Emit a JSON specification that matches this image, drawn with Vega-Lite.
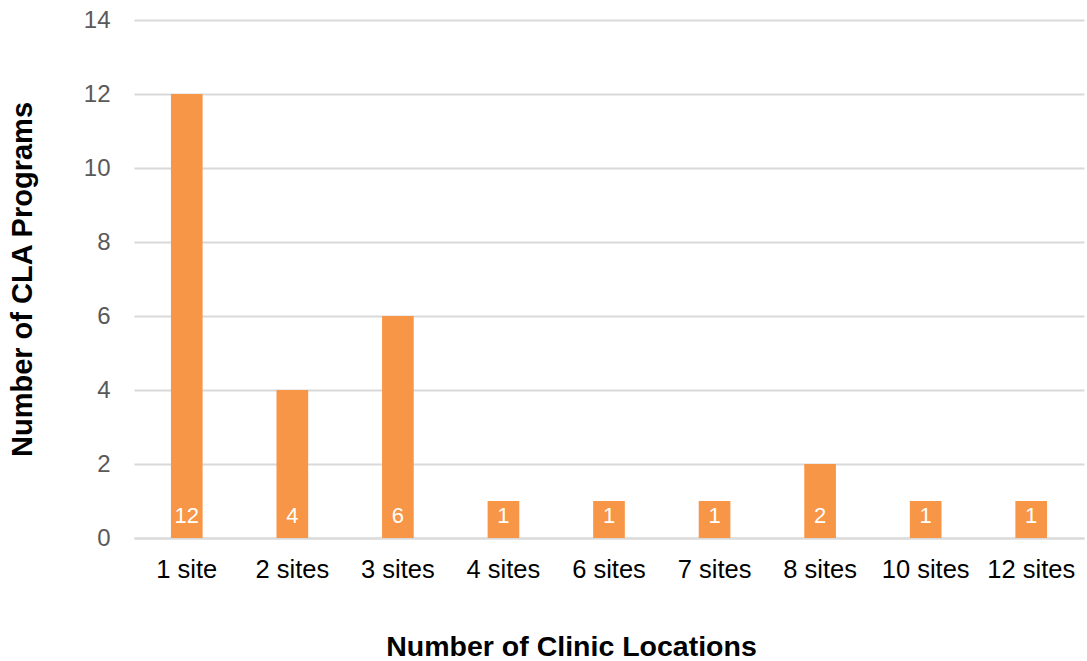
{
  "$schema": "https://vega.github.io/schema/vega-lite/v6.json",
  "autosize": {"type": "none"},
  "width": 950,
  "height": 518,
  "padding": {"left": 134, "top": 20, "right": 3, "bottom": 123},
  "background": "white",
  "config": {"view": {"stroke": null}, "font": "Liberation Sans"},
  "data": {"values": [
    {"sites": "1 site", "count": 12},
    {"sites": "2 sites", "count": 4},
    {"sites": "3 sites", "count": 6},
    {"sites": "4 sites", "count": 1},
    {"sites": "6 sites", "count": 1},
    {"sites": "7 sites", "count": 1},
    {"sites": "8 sites", "count": 2},
    {"sites": "10 sites", "count": 1},
    {"sites": "12 sites", "count": 1}
  ]},
  "encoding": {
    "x": {"field": "sites", "type": "nominal", "sort": null,
      "scale": {"paddingInner": 0.7, "paddingOuter": 0.35},
      "axis": {"title": "Number of Clinic Locations", "labelAngle": 0, "labelFontSize": 25.5, "labelColor": "#000000",
        "labelPadding": 19, "domain": true, "domainColor": "#D9D9D9", "domainWidth": 2, "ticks": false,
        "titleFontSize": 28.5, "titleFontWeight": "bold", "titleColor": "#000000",
        "titleX": 437, "titleY": 108, "titleBaseline": "middle", "titleAlign": "center"}}
  },
  "layer": [
    {
      "mark": {"type": "bar", "color": "#F79646"},
      "encoding": {
        "y": {"field": "count", "type": "quantitative",
          "scale": {"domain": [0, 14], "nice": false},
          "axis": {"title": "Number of CLA Programs", "values": [0,2,4,6,8,10,12,14], "labelFontSize": 24, "labelColor": "#595959",
            "labelPadding": 24, "domain": false, "ticks": false, "grid": true, "gridColor": "#D9D9D9", "gridWidth": 2,
            "titleFontSize": 29, "titleFontWeight": "bold", "titleColor": "#000000", "titleX": -112, "titleY": 259,
            "titleBaseline": "middle", "titleAlign": "center"}}
      }
    },
    {
      "mark": {"type": "text", "color": "white", "fontSize": 22, "baseline": "middle", "dy": -22},
      "encoding": {
        "y": {"datum": 0, "type": "quantitative"},
        "text": {"field": "count", "type": "quantitative"}
      }
    }
  ]
}
